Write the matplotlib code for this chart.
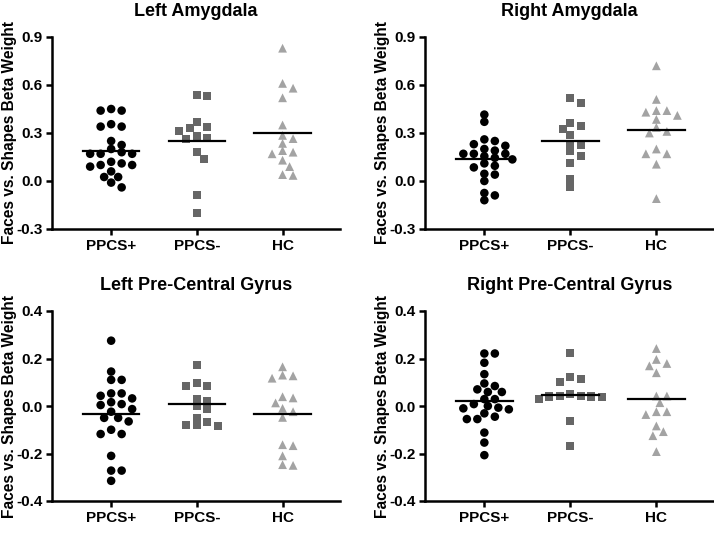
import matplotlib
matplotlib.use("Agg")
import matplotlib.pyplot as plt
import numpy as np

plt.rcParams["font.family"] = ["Liberation Sans", "DejaVu Sans"]
plt.rcParams["font.weight"] = "bold"
plt.rcParams["axes.unicode_minus"] = False

GROUPS = ["PPCS+", "PPCS-", "HC"]
TITLES = ["Left Amygdala", "Right Amygdala",
          "Left Pre-Central Gyrus", "Right Pre-Central Gyrus"]
YLABEL = "Faces vs. Shapes Beta Weight"

# values, one list per group and region
l_amy_pos = [0.44, 0.44, 0.45, 0.355, 0.34, 0.34, 0.25, 0.20, 0.225, 0.17, 0.17,
             0.17, 0.18, 0.12, 0.11, 0.10, 0.09, 0.10, 0.06, 0.025, 0.025, -0.01, -0.04]
l_amy_neg = [0.54, 0.53, 0.37, 0.34, 0.33, 0.31, 0.27, 0.26, 0.28, 0.18, 0.14,
             -0.085, -0.20]
l_amy_hc = [0.83, 0.61, 0.58, 0.52, 0.35, 0.285, 0.265, 0.235, 0.19, 0.17, 0.18,
            0.13, 0.09, 0.035, 0.04]

r_amy_pos = [0.415, 0.37, 0.26, 0.25, 0.22, 0.23, 0.20, 0.19, 0.17, 0.17, 0.17,
             0.155, 0.145, 0.135, 0.11, 0.085, 0.095, 0.04, 0.045, 0.0, -0.075,
             -0.09, -0.12]
r_amy_neg = [0.52, 0.49, 0.36, 0.345, 0.325, 0.285, 0.23, 0.225, 0.185, 0.155,
             0.11, 0.015, -0.035]
r_amy_hc = [0.72, 0.51, 0.44, 0.43, 0.44, 0.41, 0.385, 0.335, 0.31, 0.30, 0.20,
            0.17, 0.17, 0.105, -0.11]

l_pcg_pos = [0.275, 0.145, 0.11, 0.11, 0.053, 0.032, 0.053, 0.043, 0.016, 0.008,
             0.004, -0.013, -0.024, -0.05, -0.05, -0.065, -0.10, -0.118, -0.118,
             -0.21, -0.272, -0.272, -0.315]
l_pcg_neg = [0.174, 0.095, 0.084, 0.085, 0.031, 0.02, 0.0, -0.013, -0.05, -0.066,
             -0.08, -0.086, -0.08]
l_pcg_hc = [0.165, 0.13, 0.117, 0.127, 0.034, 0.039, 0.013, -0.01, -0.024, -0.048,
            -0.163, -0.167, -0.21, -0.25, -0.247]

r_pcg_pos = [0.221, 0.221, 0.182, 0.134, 0.095, 0.084, 0.07, 0.059, 0.059, 0.029,
             0.029, 0.008, 0.0, -0.007, -0.014, -0.01, -0.031, -0.045, -0.055,
             -0.055, -0.112, -0.154, -0.207]
r_pcg_neg = [0.225, 0.115, 0.123, 0.102, 0.05, 0.042, 0.04, 0.029, 0.038, 0.04,
             0.043, -0.062, -0.167]
r_pcg_hc = [0.242, 0.196, 0.179, 0.169, 0.14, 0.042, 0.042, 0.014, -0.024, -0.024,
            -0.036, -0.084, -0.108, -0.125, -0.192]

AMY_TICKS = [-0.3, 0.0, 0.3, 0.6, 0.9]
PCG_TICKS = [-0.4, -0.2, 0.0, 0.2, 0.4]

panels = [
    (TITLES[0], [l_amy_pos, l_amy_neg, l_amy_hc], AMY_TICKS),
    (TITLES[1], [r_amy_pos, r_amy_neg, r_amy_hc], AMY_TICKS),
    (TITLES[2], [l_pcg_pos, l_pcg_neg, l_pcg_hc], PCG_TICKS),
    (TITLES[3], [r_pcg_pos, r_pcg_neg, r_pcg_hc], PCG_TICKS),
]

# axes rectangles in pixels (left, top, right, bottom) of a 714x536 canvas
W, H = 714, 536
boxes = [(52, 37, 340, 229), (425, 37, 714, 229),
         (52, 311, 340, 501), (425, 311, 714, 501)]

STYLES = [dict(marker="o", color="#000000", s=38),
          dict(marker="s", color="#666666", s=34),
          dict(marker="^", color="#a3a3a3", s=40)]


def swarm(ax, xc, vals, dx=10.5, dy=7.0):
    """GraphPad-like point spread: greedy beeswarm in pixel space,
    with an elliptical no-overlap zone (rows may sit closer than columns)."""
    fig = ax.figure
    fig.canvas.draw()
    yp = ax.transData.transform(np.column_stack([np.full(len(vals), xc), vals]))[:, 1]
    bbox = ax.get_window_extent()
    x0, x1 = ax.get_xlim()
    per_px = (x1 - x0) / bbox.width
    off = np.zeros(len(vals))
    placed = []
    step = dx / 3.0
    for i in np.argsort(yp)[::-1]:
        k = 0
        while True:
            cands = [0.0] if k == 0 else [k * step, -k * step]
            hit = None
            for c in cands:
                if all(((c - px) / dx) ** 2 + ((yp[i] - py) / dy) ** 2 >= 1
                       for px, py in placed):
                    hit = c
                    break
            if hit is not None:
                break
            k += 1
        placed.append((hit, yp[i]))
        off[i] = hit
    return xc + off * per_px


fig = plt.figure(figsize=(W / 100, H / 100), dpi=100)
for (title, series, ticks), (l, t, r, b) in zip(panels, boxes):
    ax = fig.add_axes([l / W, 1 - b / H, (r - l) / W, (b - t) / H])
    ax.set_ylim(ticks[0], ticks[-1])
    ax.set_xlim(-0.69, 2.67)
    for sp in ("top", "right"):
        ax.spines[sp].set_visible(False)
    for sp in ("left", "bottom"):
        ax.spines[sp].set_linewidth(1.8)
    ax.set_yticks(ticks)
    ax.set_yticklabels([f"{v:.1f}" for v in ticks])
    ax.set_xticks(range(len(GROUPS)))
    ax.set_xticklabels(GROUPS)
    ax.tick_params(width=1.8, length=4, labelsize=11, pad=3)
    for lab in ax.get_xticklabels() + ax.get_yticklabels():
        lab.set_fontweight("bold")
    ax.set_title(title, fontsize=13, fontweight="bold", pad=15)
    ax.set_ylabel(YLABEL, fontsize=11.2, fontweight="bold")
    ax.yaxis.set_label_coords(-0.12, 0.5)

    for gi, vals in enumerate(series):
        xs = swarm(ax, gi, vals)
        ax.scatter(xs, vals, edgecolors="none", zorder=3, clip_on=False, **STYLES[gi])
        m = np.mean(vals)
        ax.plot([gi - 0.33, gi + 0.33], [m, m], color="black", lw=1.6, zorder=4)

fig.savefig("out.png", dpi=100, facecolor="white")
